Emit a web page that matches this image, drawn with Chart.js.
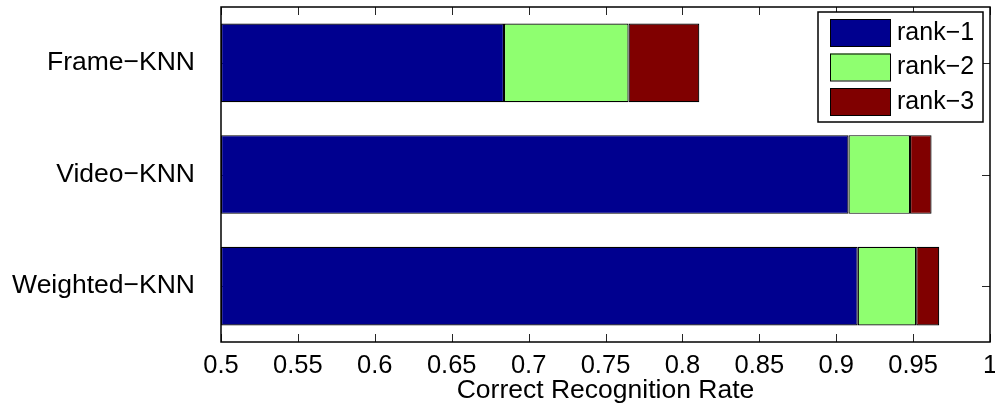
<!DOCTYPE html>
<html>
<head>
<meta charset="utf-8">
<script src="https://cdn.jsdelivr.net/npm/chart.js@4/dist/chart.umd.min.js"></script>
<style>
  html, body { margin: 0; padding: 0; background: #fff; }
  #wrap { width: 995px; height: 407px; }
</style>
</head>
<body>
<div id="wrap"><canvas id="rankChart" width="995" height="407"></canvas></div>
<script>
// data (cumulative rank-k rates)
const methods = ['Frame\u2212KNN', 'Video\u2212KNN', 'Weighted\u2212KNN'];
const rank1 = [0.684, 0.908, 0.914];
const rank2 = [0.765, 0.948, 0.952];
const rank3 = [0.811, 0.962, 0.967];
const rankNames = ['rank\u22121', 'rank\u22122', 'rank\u22123'];
const xTicks = [0.5, 0.55, 0.6, 0.65, 0.7, 0.75, 0.8, 0.85, 0.9, 0.95, 1];
const rankColors = ['#00008F', '#8FFF70', '#800000'];

const FONT = 'Liberation Sans, Arial, Helvetica, sans-serif';
const xMin = 0.5;

// floating bars: each rank segment goes from the previous rank to this one
function segment(from, to) {
    return to.map((v, i) => [from ? from[i] : xMin, v]);
}

// matlab-style box, inward ticks on all four sides, and legend box
const matlabAxes = {
    id: 'matlabAxes',
    beforeDatasetsDraw(chart) {
        const ctx = chart.ctx;
        const a = chart.chartArea;
        const xs = chart.scales.x, ys = chart.scales.y;
        ctx.save();
        ctx.strokeStyle = '#262626';
        ctx.lineWidth = 1;
        ctx.beginPath();
        xTicks.forEach(v => {
            const px = Math.round(xs.getPixelForValue(v)) + 0.5;
            ctx.moveTo(px, a.bottom); ctx.lineTo(px, a.bottom - 8);
            ctx.moveTo(px, a.top); ctx.lineTo(px, a.top + 8);
        });
        methods.forEach((m, i) => {
            const py = Math.round(ys.getPixelForValue(i)) + 0.5;
            ctx.moveTo(a.left, py); ctx.lineTo(a.left + 8, py);
            ctx.moveTo(a.right, py); ctx.lineTo(a.right - 8, py);
        });
        ctx.stroke();
        ctx.restore();
    },
    afterDraw(chart) {
        const ctx = chart.ctx;
        const a = chart.chartArea;
        ctx.save();
        ctx.strokeStyle = '#000';
        ctx.lineWidth = 1.5;
        ctx.strokeRect(a.left, a.top, a.right - a.left, a.bottom - a.top);

        // legend
        const lx = 818, ly = 12, lw = 165, lh = 110;
        ctx.fillStyle = '#fff';
        ctx.fillRect(lx, ly, lw, lh);
        ctx.strokeStyle = '#000';
        ctx.lineWidth = 1.5;
        ctx.strokeRect(lx, ly, lw, lh);
        ctx.font = '25px ' + FONT;
        ctx.textBaseline = 'middle';
        ctx.textAlign = 'left';
        chart.data.datasets.forEach((ds, i) => {
            const sy = 19 + i * 34.5;
            ctx.fillStyle = ds.backgroundColor;
            ctx.fillRect(830, sy, 60, 27);
            ctx.lineWidth = 1;
            ctx.strokeRect(830.5, sy + 0.5, 60, 27);
            ctx.fillStyle = '#000';
            ctx.fillText(ds.label, 897, sy + 14);
        });
        ctx.restore();
    }
};

const datasets = [
    { label: rankNames[0], data: segment(null, rank1), backgroundColor: rankColors[0] },
    { label: rankNames[1], data: segment(rank1, rank2), backgroundColor: rankColors[1] },
    { label: rankNames[2], data: segment(rank2, rank3), backgroundColor: rankColors[2] }
].map(ds => Object.assign(ds, {
    borderColor: '#000',
    borderWidth: 1.2,
    borderSkipped: false,
    barPercentage: 0.705,
    categoryPercentage: 1.0
}));

const ctx = document.getElementById('rankChart').getContext('2d');
const rankChart = new Chart(ctx, {
    type: 'bar',
    data: { labels: methods, datasets: datasets },
    plugins: [matlabAxes],
    options: {
        indexAxis: 'y',
        responsive: false,
        animation: false,
        layout: { padding: { left: 0, right: 5, top: 7, bottom: 0 } },
        plugins: {
            legend: { display: false },
            tooltip: { enabled: false }
        },
        scales: {
            x: {
                min: 0.5,
                max: 1,
                afterBuildTicks: s => { s.ticks = xTicks.map(v => ({ value: v })); },
                afterFit: s => { s.height = 65; s.paddingLeft = 0; s.paddingRight = 0; },
                grid: { display: false, drawTicks: false },
                border: { display: false },
                ticks: {
                    autoSkip: false,
                    maxRotation: 0,
                    padding: 9,
                    color: '#000',
                    font: { family: FONT, size: 25.5 },
                    callback: v => String(parseFloat(Number(v).toFixed(2)))
                },
                title: {
                    display: true,
                    text: 'Correct Recognition Rate',
                    color: '#000',
                    padding: { top: 0, bottom: 0 },
                    font: { family: FONT, size: 26.5 }
                }
            },
            y: {
                stacked: true,
                afterFit: s => { s.width = 221; s.paddingTop = 0; s.paddingBottom = 0; },
                grid: { display: false, drawTicks: false },
                border: { display: false },
                ticks: {
                    padding: 26,
                    color: '#000',
                    font: { family: FONT, size: 26.5 }
                }
            }
        }
    }
});
</script>
</body>
</html>
